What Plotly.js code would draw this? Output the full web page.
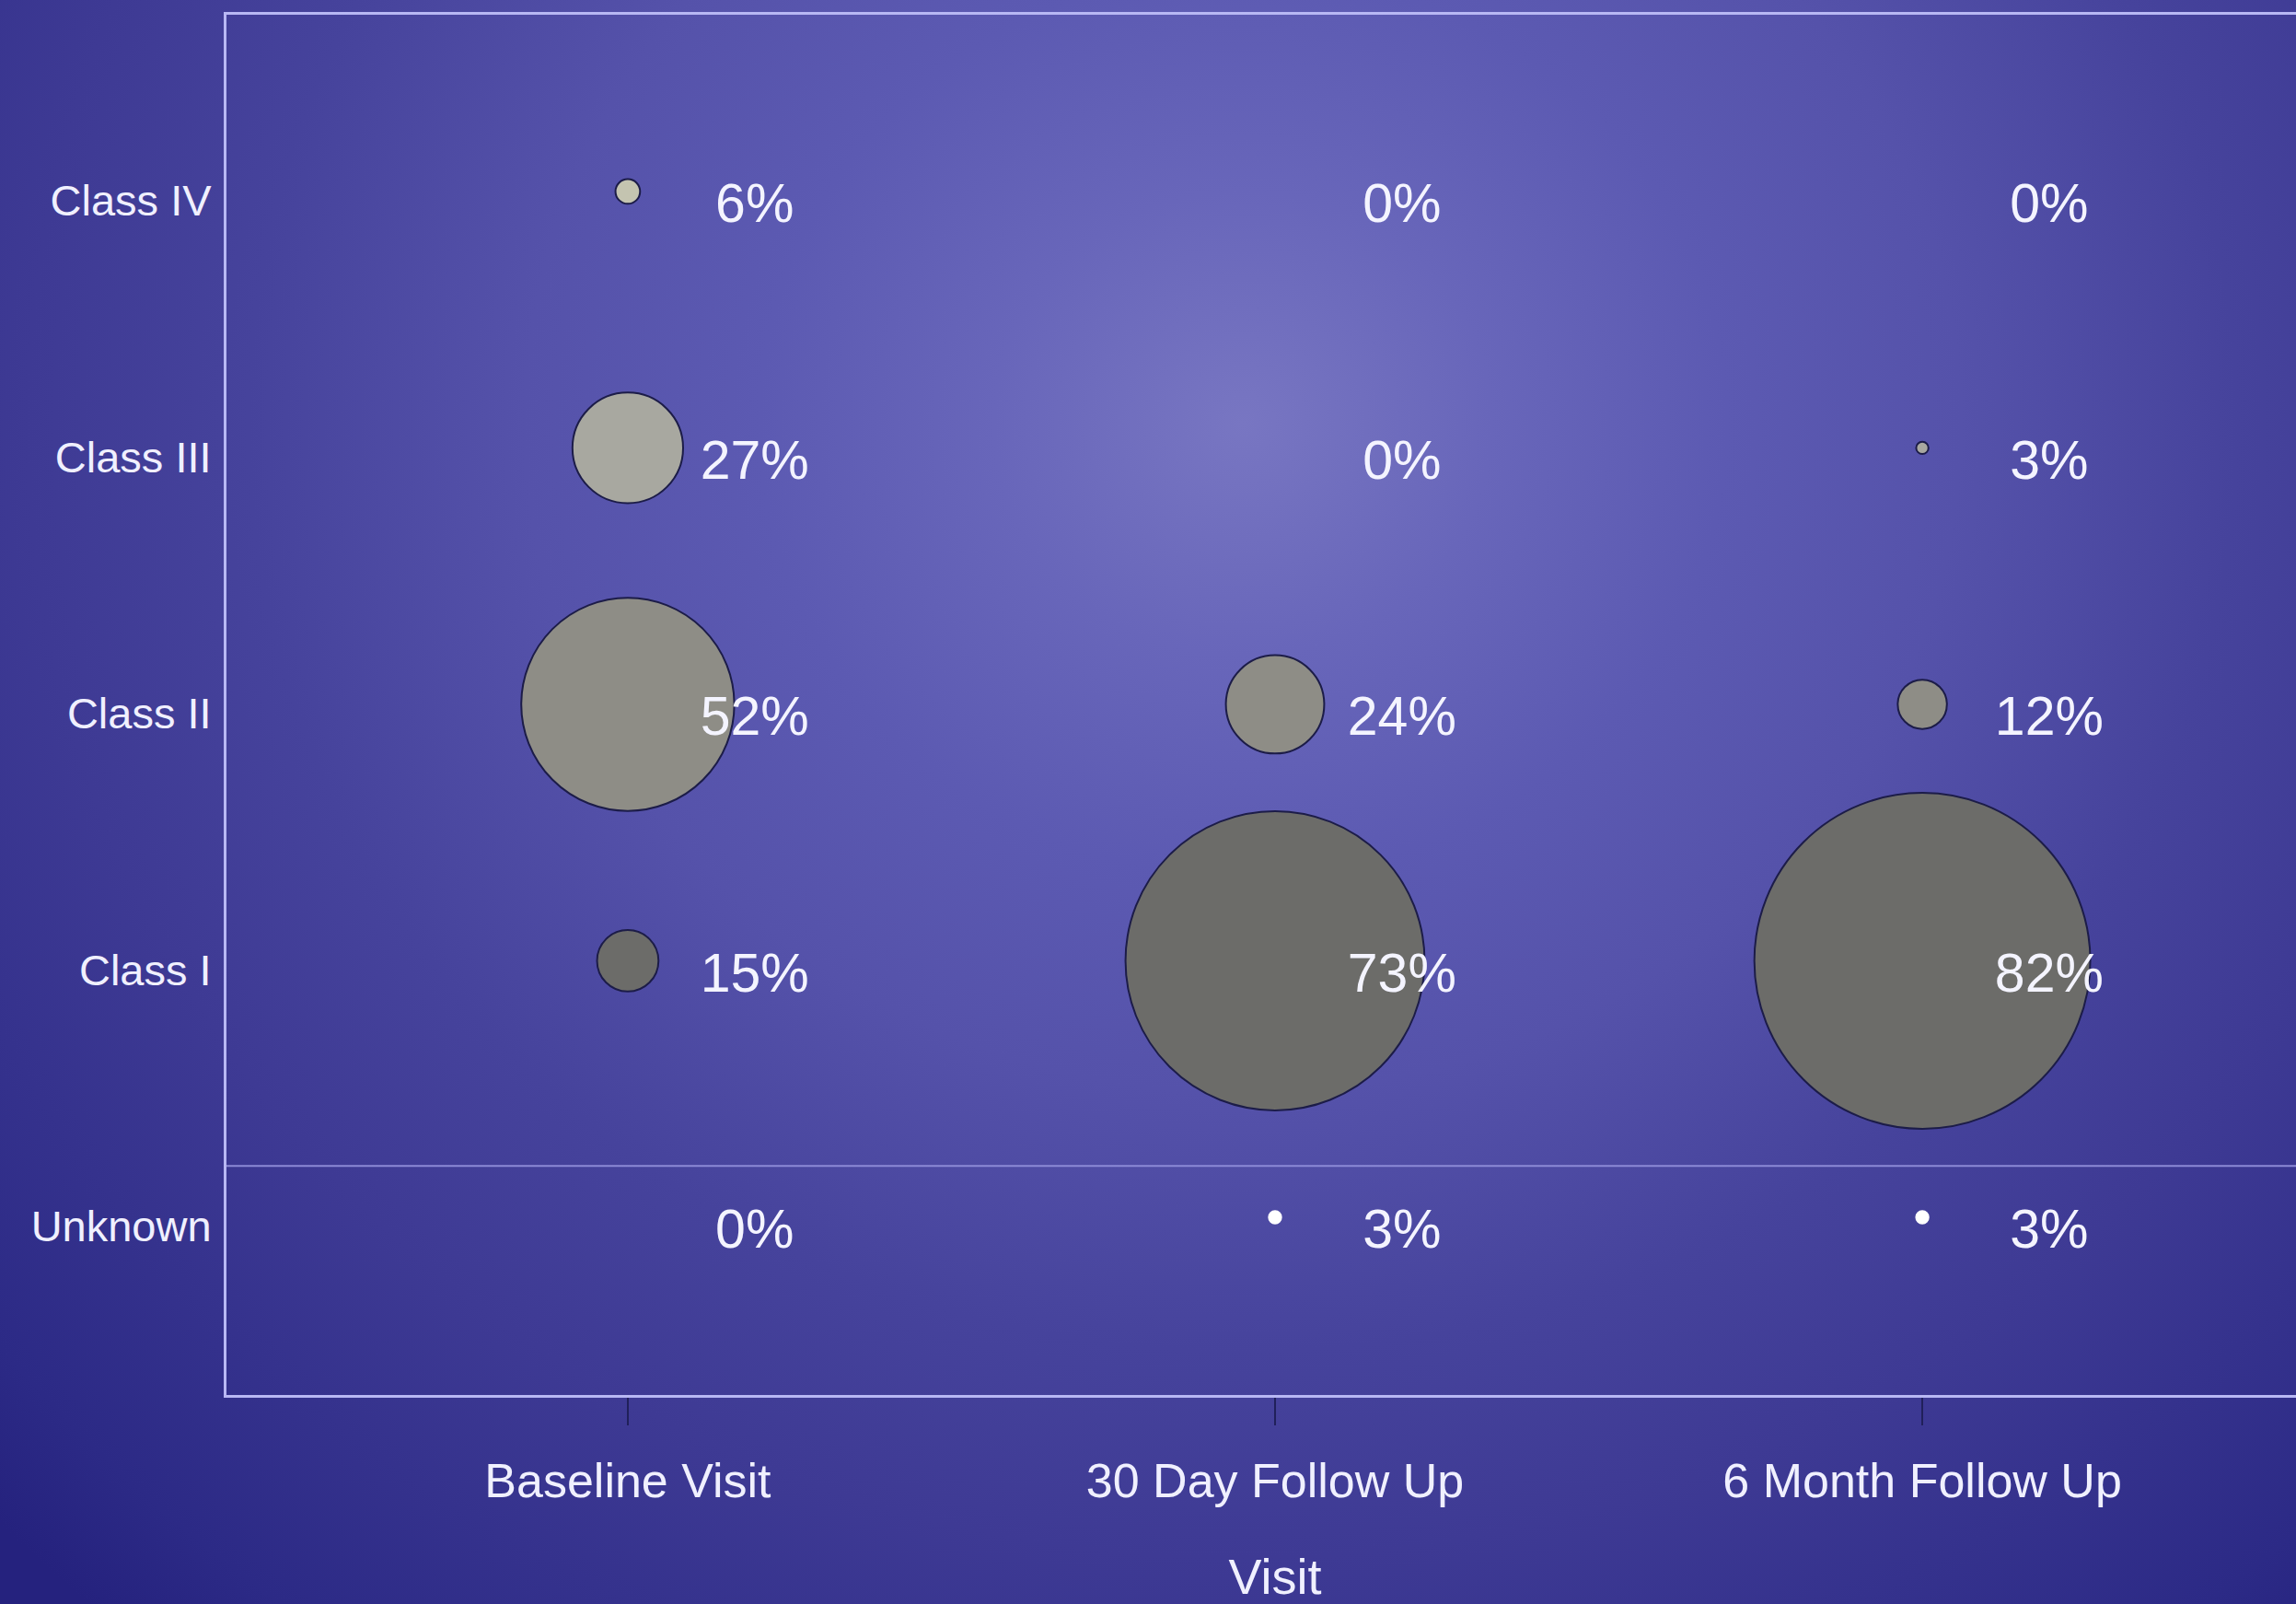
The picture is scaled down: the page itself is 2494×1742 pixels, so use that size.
<!DOCTYPE html>
<html>
<head>
<meta charset="utf-8">
<script src="https://cdn.plot.ly/plotly-3.0.1.min.js"></script>
<style>
  html, body { margin: 0; padding: 0; overflow: hidden; width: 2494px; height: 1742px; }
  body {
    background: radial-gradient(ellipse 1500px 1400px at 1350px 460px,
      #7876c2 0%, #6866ba 18%, #5c5ab2 35%, #5552aa 52%, #46439c 72%,
      #3e3a94 88%, #2c2a86 115%, #25227e 124%);
  }
  #chart { width: 2524px; height: 1742px; }
</style>
</head>
<body>
<div id="chart"></div>
<script>
// ---- data ----
var visits = ['Baseline Visit', '30 Day Follow Up', '6 Month Follow Up'];
var classes = ['Unknown', 'Class I', 'Class II', 'Class III', 'Class IV']; // bottom to top
var pctBaseline = [0, 15, 52, 27, 6];
var pct30Day   = [3, 73, 24, 0, 0];
var pct6Month  = [3, 82, 12, 3, 0];

// ---- styles ----
var classFill = ['#ffffff', '#6c6c69', '#8e8d86', '#a8a8a0', '#c4c4b0'];
var classEdge = ['#ffffff', '#1c1c48', '#1c1c48', '#1c1c48', '#1c1c48'];
var series = [pctBaseline, pct30Day, pct6Month];

var bx = [], by = [], bs = [], bc = [], bl = [];
var tx = [], ty = [], tt = [];
var labelDx = 0.196, labelDy = -0.067;
for (var i = 0; i < visits.length; i++) {
  for (var j = 0; j < classes.length; j++) {
    var v = series[i][j];
    if (v > 0) {
      bx.push(i + 1); by.push(j); bs.push(v);
      bc.push(classFill[j]); bl.push(classEdge[j]);
    }
    tx.push(i + 1 + labelDx); ty.push(j + labelDy); tt.push(v + '%');
  }
}

var bubbles = {
  type: 'scatter', mode: 'markers', x: bx, y: by,
  marker: { size: bs, sizemode: 'diameter', sizeref: 1 / 4.45,
            color: bc, opacity: 1, line: { color: bl, width: 2 } },
  hoverinfo: 'skip', showlegend: false
};
var labels = {
  type: 'scatter', mode: 'text', x: tx, y: ty, text: tt,
  textposition: 'middle center',
  textfont: { family: 'Liberation Sans, Arial, sans-serif', size: 59, color: '#f4f4ff' },
  hoverinfo: 'skip', showlegend: false
};

var font = 'Liberation Sans, Arial, sans-serif';
var layout = {
  width: 2524, height: 1742,
  paper_bgcolor: 'rgba(0,0,0,0)', plot_bgcolor: 'rgba(0,0,0,0)',
  margin: { l: 246, r: 0, t: 16, b: 227 },
  showlegend: false,
  xaxis: {
    range: [0.38, 3.62], tickvals: [1, 2, 3], ticktext: visits,
    showgrid: false, zeroline: false,
    showline: true, mirror: true, linecolor: '#b8b8f4', linewidth: 3,
    ticks: 'outside', ticklen: 30, tickwidth: 2, tickcolor: '#20205a',
    tickfont: { family: font, size: 52, color: '#f0f0ff' },
    ticklabelstandoff: 16,
    title: { text: 'Visit', font: { family: font, size: 54, color: '#f0f0ff' }, standoff: 58 },
    automargin: false, fixedrange: true
  },
  yaxis: {
    range: [-0.693, 4.689], tickvals: [0, 1, 2, 3, 4], ticktext: classes,
    showgrid: false, zeroline: false,
    showline: true, mirror: false, linecolor: '#b8b8f4', linewidth: 3,
    ticks: '', tickfont: { family: font, size: 47, color: '#f0f0ff' },
    ticklabelstandoff: 4, ticklabelshift: 10,
    automargin: false, fixedrange: true
  },
  shapes: [{
    type: 'line', xref: 'paper', x0: 0, x1: 1, yref: 'y', y0: 0.2, y1: 0.2,
    line: { color: '#8c8ad6', width: 2 }, layer: 'below'
  }]
};

Plotly.newPlot('chart', [bubbles, labels], layout, { displayModeBar: false, staticPlot: true });
</script>
</body>
</html>
